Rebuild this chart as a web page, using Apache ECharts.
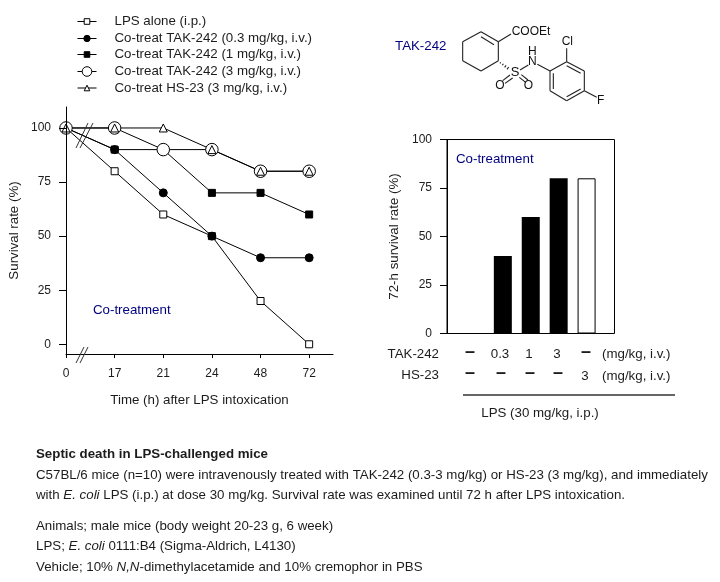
<!DOCTYPE html>
<html><head><meta charset="utf-8">
<style>html,body{margin:0;padding:0;background:#fff}#c{width:720px;height:582px}</style>
<script src="https://cdn.jsdelivr.net/npm/echarts@6/dist/echarts.min.js"></script>
</head><body><div id="c"></div>
<script>
const timeLabels = ['0','17','21','24','48','72'];
const lpsAlone = [100,80,60,50,20,0];
const tak03 = [100,90,70,50,40,40];
const tak1 = [100,90,90,70,70,60];
const tak3 = [100,100,90,90,80,80];
const hs23 = [100,100,100,90,80,80];
const survivalTicks = [0,25,50,75,100];
const barBlack = [40,60,80];
const barWhite = [80];
const takRow = ['\u2013','0.3','1','3','\u2013'];
const hsRow = ['\u2013','\u2013','\u2013','\u2013','3'];
const legendNames = ['LPS alone (i.p.)','Co-treat TAK-242 (0.3 mg/kg, i.v.)','Co-treat TAK-242 (1 mg/kg, i.v.)','Co-treat TAK-242 (3 mg/kg, i.v.)','Co-treat HS-23 (3 mg/kg, i.v.)'];

const FONT='"Liberation Sans", Arial, sans-serif', INK='#1c1c1c', BLUE='#000080', TS=13.3;
const idx = a => a.map((v,i)=>[i,v]);
function lineSeries(name,data,symbol,size,fill){
  return {name,type:'line',xAxisIndex:0,yAxisIndex:0,data:idx(data),symbol,symbolSize:size,clip:false,
    showAllSymbol:true,animation:false,
    lineStyle:{color:'#000',width:1},
    itemStyle:{color:fill,borderColor:'#000',borderWidth:1}};
}
function txt(x,y,text,o){
  o=o||{};
  return {type:'text',silent:true,z:20,style:Object.assign({x,y,text,fill:o.fill||INK,
    font:(o.weight||'')+' '+(o.size||TS)+'px '+FONT,align:o.align||'left',verticalAlign:'middle'},o.extra||{})};
}
function seg(a,b,c,d,o){
  o=o||{};
  return {type:'line',silent:true,z:20,shape:{x1:a,y1:b,x2:c,y2:d},style:{stroke:o.color||'#222',lineWidth:o.w||1}};
}
const g=[];
// axis break marks
[[76,148,88,123],[80,148,93,123],[76,363,84,347],[80,363,88,347]].forEach(s=>g.push(seg(s[0],s[1],s[2],s[3],{color:'#333'})));
g.push(txt(93,310,'Co-treatment',{fill:BLUE}));
g.push(txt(456,159,'Co-treatment',{fill:BLUE}));
g.push(txt(395,46,'TAK-242',{fill:BLUE}));
// dose table
const colX=[470,501,530,558,586];
g.push(txt(439,354,'TAK-242',{align:'right'}));
g.push(txt(439,375.5,'HS-23',{align:'right'}));
takRow.forEach((t,i)=>g.push(t==='\u2013'?txt(colX[i],352.5,t,{align:'center',weight:'bold',size:18}):txt(colX[i]-1,354,t,{align:'center'})));
hsRow.forEach((t,i)=>g.push(t==='\u2013'?txt(colX[i],373.5,t,{align:'center',weight:'bold',size:18}):txt(colX[i]-1,376,t,{align:'center'})));
g.push(txt(602,354,'(mg/kg, i.v.)'));
g.push(txt(602,376,'(mg/kg, i.v.)'));
g.push(seg(463,395,675,395,{color:'#666',w:2}));
g.push(txt(540,413,'LPS (30 mg/kg, i.p.)',{align:'center'}));
// footnote
const rich={i:{font:'italic '+TS+'px '+FONT,fill:INK}};
g.push(txt(36,454.5,'Septic death in LPS-challenged mice',{weight:'bold'}));
g.push(txt(36,475,'C57BL/6 mice (n=10) were intravenously treated with TAK-242 (0.3-3 mg/kg) or HS-23 (3 mg/kg), and immediately'));
g.push(txt(36,495.5,'with {i|E. coli} LPS (i.p.) at dose 30 mg/kg. Survival rate was examined until 72 h after LPS intoxication.',{extra:{rich}}));
g.push(txt(36,526,'Animals; male mice (body weight 20-23 g, 6 week)'));
g.push(txt(36,546.5,'LPS; {i|E. coli} 0111:B4 (Sigma-Aldrich, L4130)',{extra:{rich}}));
g.push(txt(36,567,'Vehicle; 10% {i|N,N}-dimethylacetamide and 10% cremophor in PBS',{extra:{rich}}));
// structure of TAK-242 (drawing, not data)
const mx=v=>450+v/3, my=v=>20+v/3;
const bonds=[[38,65,38,122],[38,122,93,153],[93,153,145,122],[145,122,145,65],[145,65,93,35],[93,35,38,65],[132,74,93,50],
 [145,65,183,42],[210,150,235,135],[262,133,300,153],
 [300,153,350,125],[350,125,403,153],[403,153,403,212],[403,212,350,242],[350,242,300,212],[300,212,300,153],
 [350,137,392,160],[392,207,350,230],[310,207,310,160],[350,125,350,85],[403,212,440,232],
 [180,165,158,182],[188,174,165,190],[208,172,228,188],[214,164,234,180]];
bonds.forEach(b=>g.push(seg(mx(b[0]),my(b[1]),mx(b[2]),my(b[3]),{w:1.1})));
[[152,127,150,130],[160,131,157,136],[168,136,164,142],[176,141,171,148]].forEach(b=>g.push(seg(mx(b[0]),my(b[1]),mx(b[2]),my(b[3]),{w:1.1})));
[[185,34,'COOEt','left'],[352,65,'Cl','center'],[247,95,'H','center'],[247,125,'N','center'],[195,157,'S','center'],[150,197,'O','center'],[235,197,'O','center'],[452,242,'F','center']]
 .forEach(a=>g.push(txt(mx(a[0]),my(a[1]),a[2],{align:a[3],size:a[2]==='S'?13:12,fill:'#111'})));

const axisCommon={axisLine:{show:true,onZero:false,lineStyle:{color:'#000',width:1}},
  axisTick:{show:true,inside:false,lineStyle:{color:'#000',width:1}},
  splitLine:{show:false}};
const labelStyle={color:INK,fontSize:12,fontFamily:FONT};
const nameStyle={color:INK,fontSize:TS,fontFamily:FONT};
const legendRows=[21.5,38.5,54.5,71.5,88], legendIcon=[7,8,7,12,7];

const option={
  animation:false,backgroundColor:'#fff',textStyle:{fontFamily:FONT},
  legend:legendNames.map((n,i)=>({orient:'vertical',left:77,top:legendRows[i]-8,itemWidth:19,itemHeight:legendIcon[i],
    selectedMode:false,align:'left',padding:0,
    lineStyle:{width:1,color:'#000'},itemStyle:{borderWidth:1},
    textStyle:{color:INK,fontSize:TS,fontFamily:FONT,height:16,lineHeight:16,padding:[0,0,0,13]},data:[n]})),
  grid:[
    {left:66,top:107,width:267,height:247,containLabel:false},
    {left:447,top:139.5,width:167.5,height:194,containLabel:false,show:true,borderColor:'#000',borderWidth:1,backgroundColor:'transparent'}
  ],
  xAxis:[
    Object.assign({},axisCommon,{gridIndex:0,type:'value',min:0,max:5.49,
      name:'Time (h) after LPS intoxication',nameLocation:'middle',nameGap:40,nameTextStyle:nameStyle,
      axisTick:{show:true,length:4,customValues:[0,1,2,3,4,5],lineStyle:{color:'#000'}},
      axisLabel:Object.assign({},labelStyle,{margin:14,customValues:[0,1,2,3,4,5],formatter:v=>timeLabels[v]})}),
    {gridIndex:1,type:'value',min:0,max:6,interval:1,axisLine:{show:false,onZero:false},axisTick:{show:false},axisLabel:{show:false},splitLine:{show:false}}
  ],
  yAxis:[
    Object.assign({},axisCommon,{gridIndex:0,type:'value',min:-4.5,max:109.7,z:5,
      name:'Survival rate (%)',nameLocation:'middle',nameGap:45,nameRotate:90,nameTextStyle:nameStyle,
      axisTick:{show:true,length:7,customValues:survivalTicks,lineStyle:{color:'#000'}},
      axisLabel:Object.assign({},labelStyle,{margin:15,customValues:survivalTicks})}),
    Object.assign({},axisCommon,{gridIndex:1,type:'value',min:0,max:100,interval:25,
      name:'72-h survival rate (%)',nameLocation:'middle',nameGap:46,nameRotate:90,nameTextStyle:nameStyle,
      axisTick:{show:true,length:7,lineStyle:{color:'#000'}},
      axisLabel:Object.assign({},labelStyle,{margin:15})})
  ],
  series:[
    lineSeries(legendNames[0],lpsAlone,'rect',7,'#fff'),
    lineSeries(legendNames[1],tak03,'circle',8,'#000'),
    lineSeries(legendNames[2],tak1,'rect',7,'#000'),
    lineSeries(legendNames[3],tak3,'circle',12.5,'#fff'),
    lineSeries(legendNames[4],hs23,'triangle',8,'#fff'),
    {type:'bar',xAxisIndex:1,yAxisIndex:1,barWidth:18,barGap:'-100%',data:barBlack.map((v,i)=>[i+2,v]),itemStyle:{color:'#000'}},
    {type:'bar',xAxisIndex:1,yAxisIndex:1,barWidth:18,barGap:'-100%',data:barWhite.map((v,i)=>[i+5,v]),itemStyle:{color:'#fff',borderColor:'#000',borderWidth:1}}
  ],
  graphic:{elements:g}
};
echarts.init(document.getElementById('c')).setOption(option);
</script></body></html>
